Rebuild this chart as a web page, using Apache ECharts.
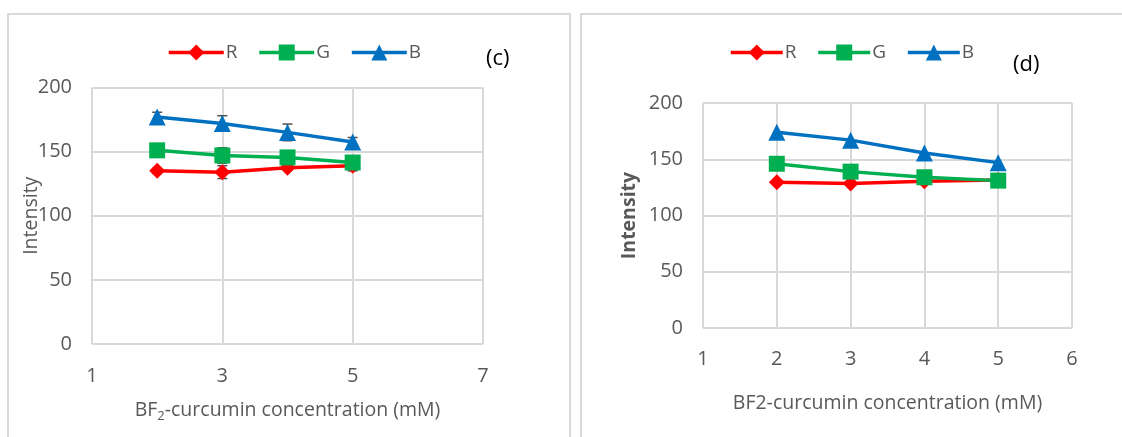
<!DOCTYPE html>
<html><head><meta charset="utf-8">
<script src="https://cdn.jsdelivr.net/npm/echarts@6/dist/echarts.min.js"></script>
<style>html,body{margin:0;padding:0;background:#fff}#c{width:1122px;height:437px}</style>
</head><body><div id="c"></div>
<script>
// Panel (c)
const xC = [2, 3, 4, 5];
const rC = [135, 134, 137.5, 139];
const gC = [151, 147, 145.5, 141.5];
const bC = [177, 172, 165, 157.5];
const rCerr = [2, 5, 2, 4];
const gCerr = [2, 6, 2, 2];
const bCerr = [3.7, 6, 6.5, 3.5];
// Panel (d)
const xD = [2, 3, 4, 5];
const rD = [129.5, 128.5, 130.5, 131.5];
const gD = [146, 139, 134, 131];
const bD = [174, 167, 155.5, 147];
const xTicksC = [1, 3, 5, 7];
const xTicksD = [1, 2, 3, 4, 5, 6];
const yTicks = [0, 50, 100, 150, 200];

const FONT = '"Open Sans", sans-serif';
const GRAY = '#595959';
const GRID = '#d9d9d9';
const COLORS = {R: '#ff0000', G: '#00b050', B: '#0070c0'};
const SYMS = {R: 'diamond', G: 'rect', B: 'triangle'};
const SIZES = {R: 16, G: 16, B: 17};

function pairs(xs, ys) { return xs.map((x, i) => [x, ys[i]]); }
function lineSeries(name, xs, ys, idx) {
  return {
    name, type: 'line', xAxisIndex: idx, yAxisIndex: idx,
    data: pairs(xs, ys), symbol: SYMS[name], symbolSize: SIZES[name],
    showAllSymbol: true, z: 3,
    lineStyle: {color: COLORS[name], width: 3.5},
    itemStyle: {color: COLORS[name]}, emphasis: {disabled: true}
  };
}
function errSeries(xs, ys, errs, idx) {
  return {
    type: 'custom', xAxisIndex: idx, yAxisIndex: idx, z: 2, silent: true,
    data: xs.map((x, i) => [x, ys[i], errs[i]]),
    renderItem: function (params, api) {
      const x = api.value(0), y = api.value(1), e = api.value(2);
      const hi = api.coord([x, y + e]), lo = api.coord([x, y - e]);
      const w = 5;
      const st = {stroke: '#505050', lineWidth: 1.5};
      return {type: 'group', children: [
        {type: 'line', shape: {x1: hi[0], y1: hi[1], x2: lo[0], y2: lo[1]}, style: st},
        {type: 'line', shape: {x1: hi[0] - w, y1: hi[1], x2: hi[0] + w, y2: hi[1]}, style: st},
        {type: 'line', shape: {x1: lo[0] - w, y1: lo[1], x2: lo[0] + w, y2: lo[1]}, style: st}
      ]};
    }
  };
}
function xAxis(idx, min, max, interval, nameGap, margin, name, rich) {
  return {
    type: 'value', gridIndex: idx, min, max, interval,
    name, nameLocation: 'middle', nameGap, nameMoveOverlap: false,
    nameTextStyle: Object.assign({color: GRAY, fontSize: 19.5, fontFamily: FONT}, rich ? {rich} : {}),
    axisLine: {show: false}, axisTick: {show: false},
    axisLabel: {color: GRAY, fontSize: 20, fontFamily: FONT, margin},
    splitLine: {show: true, lineStyle: {color: GRID, width: 2}}
  };
}
function yAxis(idx, nameGap, bold) {
  return {
    type: 'value', gridIndex: idx, min: yTicks[0], max: yTicks[yTicks.length - 1], interval: 50,
    name: 'Intensity', nameLocation: 'middle', nameGap, nameMoveOverlap: false,
    nameTextStyle: {color: GRAY, fontSize: 19.5, fontFamily: FONT, fontWeight: bold ? 'bold' : 'normal'},
    axisLine: {show: false}, axisTick: {show: false},
    axisLabel: {color: GRAY, fontSize: 20, fontFamily: FONT, margin: 20},
    splitLine: {show: true, lineStyle: {color: GRID, width: 2}}
  };
}
const legendText = {color: GRAY, fontSize: 19, fontFamily: FONT, padding: [0, 0, 0, -3]};

const chart = echarts.init(document.getElementById('c'), null, {renderer: 'canvas'});
chart.setOption({
  animation: false,
  backgroundColor: '#fff',
  grid: [
    {left: 92, top: 87.5, width: 391, height: 256.5},
    {left: 703, top: 103, width: 369, height: 225}
  ],
  title: [
    {text: '(c)', left: 486, top: 48, padding: 0, textStyle: {color: '#000', fontSize: 22, fontWeight: 'normal', fontFamily: FONT}},
    {text: '(d)', left: 1013, top: 54, padding: 0, textStyle: {color: '#000', fontSize: 22, fontWeight: 'normal', fontFamily: FONT}}
  ],
  legend: [
    {data: ['R', 'G', 'B'], left: 167, top: 43, padding: 0, itemWidth: 55, itemHeight: 20, itemGap: 20,
     lineStyle: {width: 3.5}, textStyle: legendText, selectedMode: false},
    {data: ['R', 'G', 'B'], left: 729, top: 43, padding: 0, itemWidth: 52, itemHeight: 20, itemGap: 20,
     lineStyle: {width: 3.5}, textStyle: legendText, selectedMode: false}
  ],
  xAxis: [
    xAxis(0, xTicksC[0], xTicksC[xTicksC.length - 1], 2, 54, 22,
      'BF{sub|2}-curcumin concentration (mM)', {sub: {fontSize: 13, color: GRAY, fontFamily: FONT, verticalAlign: 'bottom', padding: [12, 0, 0, 0]}}),
    xAxis(1, xTicksD[0], xTicksD[xTicksD.length - 1], 1, 65, 21, 'BF2-curcumin concentration (mM)')
  ],
  yAxis: [yAxis(0, 51, false), yAxis(1, 64, true)],
  series: [
    errSeries(xC, rC, rCerr, 0),
    errSeries(xC, gC, gCerr, 0),
    errSeries(xC, bC, bCerr, 0),
    lineSeries('R', xC, rC, 0),
    lineSeries('G', xC, gC, 0),
    lineSeries('B', xC, bC, 0),
    lineSeries('R', xD, rD, 1),
    lineSeries('G', xD, gD, 1),
    lineSeries('B', xD, bD, 1)
  ],
  graphic: [
    {type: 'polyline', silent: true, shape: {points: [[8, 440], [8, 14], [570, 14], [570, 440]]}, style: {stroke: GRID, lineWidth: 2, fill: null}},
    {type: 'polyline', silent: true, shape: {points: [[581, 440], [581, 14], [1125, 14]]}, style: {stroke: GRID, lineWidth: 2, fill: null}}
  ]
});
</script></body></html>
